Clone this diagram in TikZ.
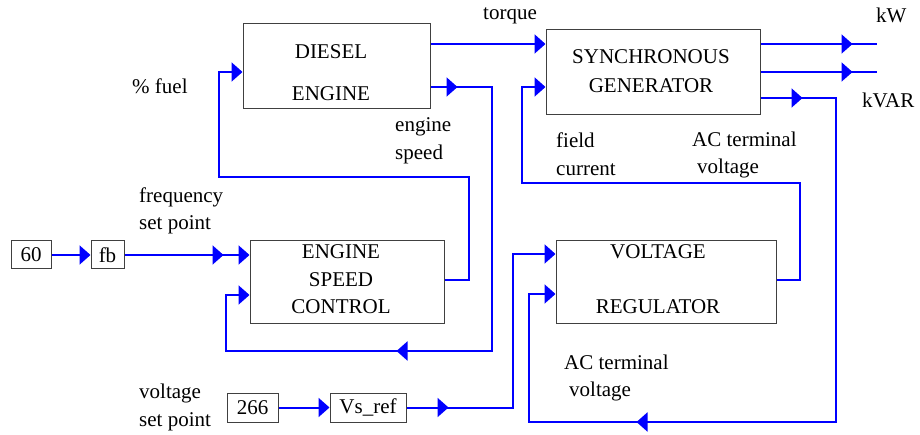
\documentclass[tikz,border=0pt]{standalone}
\usepackage{fontspec}
\setmainfont{Liberation Serif}
\usetikzlibrary{arrows.meta,decorations.markings}

\begin{document}
\begin{tikzpicture}[x=1pt,y=-1pt,
    every node/.style={font=\fontsize{21}{27.5}\selectfont,inner sep=0pt},
    block/.style={draw=black!75,line width=1pt},
    lbl/.style={anchor=west,align=left},
    flow/.style={draw=blue,line width=2pt,-{Triangle[length=11pt,width=19pt]}},
    midarrow/.style={postaction={decorate,decoration={markings,
      mark=at position #1 with {\arrow{Triangle[length=11pt,width=19pt]}}}}}]
  \useasboundingbox (0,0) rectangle (920,435);
  % blocks
  \node[block,minimum width=187pt,minimum height=85pt] (engine) at (336.5,66.5) {};
  \node[align=center] (engine-txt) at (331,73) {DIESEL\\[14.5pt]ENGINE};
  \node[block,minimum width=214pt,minimum height=85pt] (sg) at (653,72.5) {};
  \node[align=center] (sg-txt) at (651,71.5) {SYNCHRONOUS\\[1.5pt]GENERATOR};
  \node[block,minimum width=194pt,minimum height=82pt] (esc) at (347,282) {};
  \node[align=center] (esc-txt) at (341,279.5) {ENGINE\\SPEED\\CONTROL};
  \node[block,minimum width=220pt,minimum height=82pt] (vr) at (666,282) {};
  \node[align=center] (vr-txt) at (658,279.5) {VOLTAGE\\[27.5pt]REGULATOR};
  \node[block,minimum width=40pt,minimum height=28pt] (b60) at (31,255) {60};
  \node[block,minimum width=33pt,minimum height=28pt] (fb) at (107.5,255) {fb};
  \node[block,minimum width=51pt,minimum height=29pt] (b266) at (252.5,407.5) {266};
  \node[block,minimum width=76pt,minimum height=29pt] (vsref) at (368,407.5) {Vs\_ref};
  % labels
  \node[lbl] (fuel) at (132,86) {\%~fuel};
  \node[lbl] (torque) at (483,16) {torque};
  \node[lbl] (kw-txt) at (876,15) {kW};
  \node[lbl] (kvar-txt) at (862,100.5) {kVAR};
  \node[lbl] (speed) at (395,141) {engine\\speed};
  \node[lbl] (freq) at (139,211) {frequency\\set point};
  \node[lbl] (vset) at (139,407.5) {voltage\\set point};
  \node[lbl] (field) at (556,154) {field\\current};
  \node[lbl] (acv) at (692,155) {AC terminal\\\hspace{5pt}voltage};
  \node[lbl] (acv2) at (564,378) {AC terminal\\\hspace{5pt}voltage};
  % connectors
  \coordinate (kw) at (877,44);
  \coordinate (kvar) at (877,72);
  \draw[flow] (engine.east |- 0,44) -- (sg.west |- 0,44);
  \draw[flow,midarrow=27pt,midarrow=421pt] (engine.east |- 0,87) -| (492,351) -| (226,295) -- (esc.west |- 0,295);
  \draw[flow] (esc.east |- 0,280) -| (469,177) -| (219,72) -- (engine.west |- 0,72);
  \draw[flow] (b60) -- (fb);
  \draw[flow,midarrow=99pt] (fb) -- (fb -| esc.west);
  \draw[flow] (b266) -- (vsref);
  \draw[flow,midarrow=42pt] (vsref) -| (513,254) -- (vr.west |- 0,254);
  \draw[flow,-,midarrow=92pt] (sg.east |- 0,44) -- (kw);
  \draw[flow,-,midarrow=92pt] (sg.east |- 0,72) -- (kvar);
  \draw[flow,midarrow=42pt,midarrow=599pt] (sg.east |- 0,98) -| (836,422) -| (529,294) -- (vr.west |- 0,294);
  \draw[flow] (vr.east |- 0,280) -| (800,183) -| (522,87) -- (sg.west |- 0,87);
\end{tikzpicture}
\end{document}
